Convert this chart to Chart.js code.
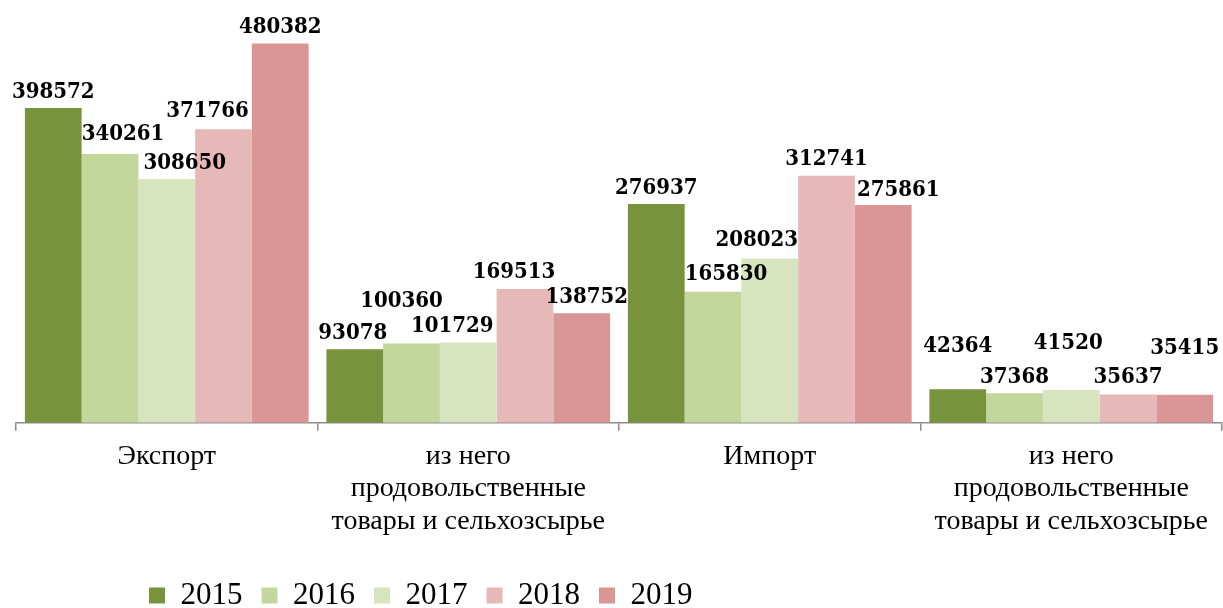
<!DOCTYPE html>
<html>
<head>
<meta charset="utf-8">
<script src="https://cdn.jsdelivr.net/npm/chart.js@4.4.1/dist/chart.umd.min.js"></script>
<style>
  html, body { margin: 0; padding: 0; background: #ffffff; }
  #wrap { position: relative; width: 1223px; height: 608px; }
</style>
</head>
<body>
<div id="wrap"><canvas id="c"></canvas></div>
<script>
// ---- data ----
const categories = [
  'Экспорт',
  ['из него', 'продовольственные', 'товары и сельхозсырье'],
  'Импорт',
  ['из него', 'продовольственные', 'товары и сельхозсырье']
];
const seriesNames = ['2015', '2016', '2017', '2018', '2019'];
const values2015 = [398572, 93078, 276937, 42364];
const values2016 = [340261, 100360, 165830, 37368];
const values2017 = [308650, 101729, 208023, 41520];
const values2018 = [371766, 169513, 312741, 35637];
const values2019 = [480382, 138752, 275861, 35415];

// ---- styles ----
const colors = ['#77933C', '#C3D69B', '#D7E4BD', '#E6B9B8', '#D99694'];
// label nudges (dx, dy) per series / category, to mimic the original placement
const labelNudge = [
  [[0, 0], [-2, 0], [0, 0], [0, -27]],
  [[13, -4], [-10, -26], [13, -1.5], [0, 0]],
  [[18, 0], [-16, 0], [-13, -1.5], [-3, -30.5]],
  [[-16, -1.5], [-11, 0], [0, 0], [0, -1]],
  [[0, 0], [5, 0], [15, 2], [0, -30]]
];

const allValues = [values2015, values2016, values2017, values2018, values2019];

const valueLabels = {
  id: 'valueLabels',
  afterDatasetsDraw(chart) {
    const ctx = chart.ctx;
    ctx.save();
    ctx.font = 'bold 22px "DejaVu Serif Condensed", "DejaVu Serif"';
    ctx.fillStyle = '#000000';
    ctx.textAlign = 'center';
    ctx.textBaseline = 'alphabetic';
    chart.data.datasets.forEach((ds, di) => {
      const meta = chart.getDatasetMeta(di);
      meta.data.forEach((el, i) => {
        const n = labelNudge[di][i];
        ctx.fillText(String(ds.data[i]), el.x + n[0], el.y - 10.5 + n[1]);
      });
    });
    ctx.restore();
  }
};

const legendPlace = {
  id: 'legendPlace',
  afterLayout(chart) {
    const lg = chart.legend;
    if (!lg) return;
    const h = lg.height;
    lg.left = 130;
    lg.right = 1223;
    lg.top = 561;
    lg.bottom = 561 + h;
  }
};

new Chart(document.getElementById('c'), {
  type: 'bar',
  data: {
    labels: categories,
    datasets: seriesNames.map((name, i) => ({
      label: name,
      data: allValues[i],
      backgroundColor: colors[i],
      borderWidth: 0,
      barPercentage: 1.0,
      categoryPercentage: 0.941
    }))
  },
  options: {
    responsive: true,
    maintainAspectRatio: false,
    animation: false,
    layout: { padding: { top: 28, left: 16, right: 1, bottom: 0 } },
    scales: {
      x: {
        offset: true,
        grid: {
          display: true,
          offset: true,
          drawOnChartArea: false,
          drawTicks: true,
          tickLength: 8,
          color: '#8C8C8C',
          lineWidth: 1.5
        },
        border: { display: true, color: '#8C8C8C', width: 1.5 },
        ticks: {
          color: '#000000',
          padding: 10,
          maxRotation: 0,
          autoSkip: false,
          font: { family: '"Liberation Serif"', size: 28, lineHeight: 1.15 }
        },
        afterFit(scale) { scale.height = 125.3; }
      },
      y: {
        display: false,
        min: 0,
        max: 500000
      }
    },
    plugins: {
      legend: {
        display: true,
        position: 'bottom',
        align: 'start',
        labels: {
          boxWidth: 16,
          boxHeight: 16,
          padding: 19,
          color: '#000000',
          font: { family: '"Liberation Serif"', size: 31 }
        }
      },
      tooltip: { enabled: false }
    }
  },
  plugins: [valueLabels, legendPlace]
});
</script>
</body>
</html>
